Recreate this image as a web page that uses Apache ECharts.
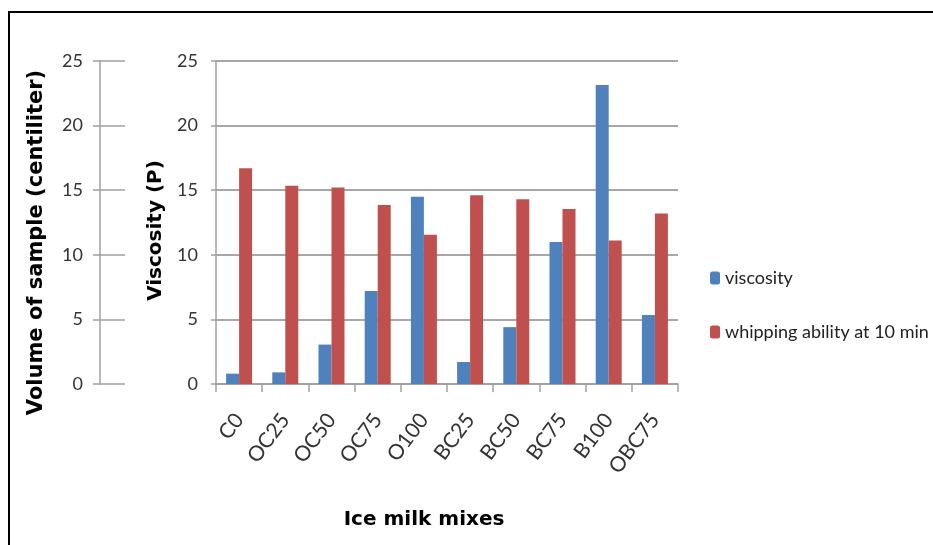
<!DOCTYPE html>
<html>
<head>
<meta charset="utf-8">
<script src="https://cdn.jsdelivr.net/npm/echarts@6/dist/echarts.min.js"></script>
<style>html,body{margin:0;padding:0;background:#fff}#c{width:933px;height:545px}</style>
</head>
<body>
<div id="c"></div>
<script>
var categories = ['C0','OC25','OC50','OC75','O100','BC25','BC50','BC75','B100','OBC75'];
var viscosity = [0.8, 0.9, 3.05, 7.2, 14.5, 1.7, 4.4, 11.0, 23.15, 5.35];
var whipping = [16.7, 15.35, 15.2, 13.85, 11.55, 14.6, 14.3, 13.55, 11.1, 13.2];
var seriesNames = ['viscosity', 'whipping ability at 10 min'];
var yMin = 0, yMax = 25, yStep = 5;

var chart = echarts.init(document.getElementById('c'));
var gridColor = '#8a8a8a';
var axisColor = '#a0a0a0';
var labelFont = {fontFamily: 'Lato', fontSize: 18, color: '#333'};
function titleFont(size) {
  return {fontFamily: 'DejaVu Sans', fontWeight: 'bold', fontSize: size, color: '#000'};
}

chart.setOption({
  animation: false,
  backgroundColor: '#fff',
  graphic: [{
    type: 'rect', shape: {x: 9, y: 12, width: 960, height: 600},
    style: {fill: 'none', stroke: '#000', lineWidth: 2}, silent: true
  }],
  legend: {
    orient: 'vertical', left: 705, top: 264, itemGap: 36,
    itemWidth: 10, itemHeight: 13,
    textStyle: {fontFamily: 'Lato', fontSize: 18, color: '#222'},
    data: seriesNames
  },
  grid: [
    {left: 216, top: 61, width: 462, height: 323},
    {left: 100, top: 61, width: 25, height: 323}
  ],
  xAxis: [
    {
      type: 'category', gridIndex: 0, data: categories,
      axisLine: {lineStyle: {color: axisColor, width: 1.5}},
      axisTick: {show: true, interval: 0, length: 8, lineStyle: {color: axisColor, width: 1.5}},
      axisLabel: Object.assign({rotate: 53, interval: 0, margin: 32}, labelFont, {fontSize: 21}),
      name: 'Ice milk mixes', nameLocation: 'middle', nameGap: 126,
      nameTextStyle: Object.assign({padding: [0, 46, 0, 0]}, titleFont(20))
    },
    {type: 'value', gridIndex: 1, show: false, min: 0, max: 1}
  ],
  yAxis: [
    {
      type: 'value', gridIndex: 0, min: yMin, max: yMax, interval: yStep,
      axisLine: {show: true, lineStyle: {color: axisColor, width: 1.5}},
      axisTick: {show: true, length: 5, lineStyle: {color: axisColor, width: 1.5}},
      splitLine: {lineStyle: {color: gridColor, width: 1.5}},
      axisLabel: Object.assign({margin: 18}, labelFont),
      name: 'Viscosity (P)', nameLocation: 'middle', nameGap: 50, nameRotate: 90,
      nameTextStyle: Object.assign({padding: [0, 16, 0, 0]}, titleFont(20))
    },
    {
      type: 'value', gridIndex: 1, min: yMin, max: yMax, interval: yStep,
      axisLine: {show: true, lineStyle: {color: axisColor, width: 1.5}},
      axisTick: {show: true, length: 7, lineStyle: {color: axisColor, width: 1.5}},
      splitLine: {show: true, lineStyle: {color: axisColor, width: 1.5}},
      axisLabel: Object.assign({margin: 17}, labelFont),
      name: 'Volume of sample (centiliter)', nameLocation: 'middle', nameGap: 53, nameRotate: 90,
      nameTextStyle: Object.assign({padding: [0, 40, 0, 0]}, titleFont(21))
    }
  ],
  series: [
    {
      name: seriesNames[0], type: 'bar', xAxisIndex: 0, yAxisIndex: 0,
      data: viscosity, barWidth: 13, barGap: '0%',
      itemStyle: {color: '#4F81BD'}
    },
    {
      name: seriesNames[1], type: 'bar', xAxisIndex: 0, yAxisIndex: 0,
      data: whipping, barWidth: 13, barGap: '0%',
      itemStyle: {color: '#C0504D'}
    },
    {
      type: 'line', xAxisIndex: 1, yAxisIndex: 1, data: [], silent: true
    }
  ]
});
</script>
</body>
</html>
